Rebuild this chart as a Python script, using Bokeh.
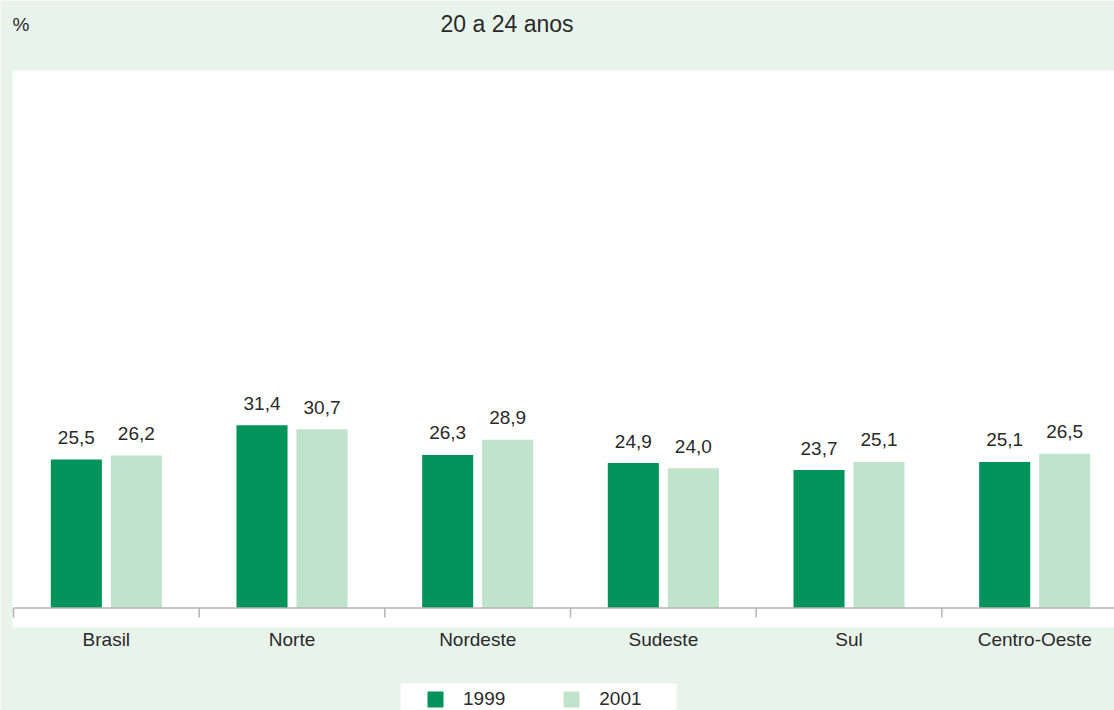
from bokeh.plotting import figure
from bokeh.models import ColumnDataSource, Range1d, Label, Legend, LegendItem, BoxAnnotation
from bokeh.core.properties import value
from bokeh.embed import file_html
from bokeh.resources import INLINE

# ---- data ----
regions = ["Brasil", "Norte", "Nordeste", "Sudeste", "Sul", "Centro-Oeste"]
v1999 = [25.5, 31.4, 26.3, 24.9, 23.7, 25.1]
v2001 = [26.2, 30.7, 28.9, 24.0, 25.1, 26.5]
series_names = ["1999", "2001"]
title_text = "20 a 24 anos"
unit_text = "%"

# ---- style ----
FONT = "Liberation Sans"
TXT = "#2a2a2a"
DARK = "#00945A"
LIGHT = "#BFE3CB"
BG = "#E8F3EB"
AXIS = "#B4B4B4"

W, H = 1114, 710
cat_px = 185.67      # pixels per category
x0_px = 13           # page x of first category boundary
y0_px = 607.5        # page y of value 0
val_px = 5.82        # pixels per percentage point

n = len(regions)
centers = [i + 0.5 for i in range(n)]
off = 0.1616
bw = 0.275

p = figure(width=W, height=H, output_backend="svg", toolbar_location=None,
           x_range=Range1d(-x0_px / cat_px, (W - x0_px) / cat_px),
           y_range=Range1d(-(H - y0_px) / val_px, y0_px / val_px),
           x_axis_location=None, y_axis_location=None,
           min_border_left=0, min_border_right=0, min_border_top=0, min_border_bottom=0)
p.background_fill_color = BG
p.border_fill_color = BG
p.outline_line_color = None
p.xgrid.visible = False
p.ygrid.visible = False

# white plotting panel and legend panel (screen units, from bottom-left)
p.add_layout(BoxAnnotation(left=12, right=W + 10, top=H - 70, bottom=H - 627,
                           left_units="screen", right_units="screen",
                           top_units="screen", bottom_units="screen",
                           fill_color="white", fill_alpha=1.0, line_color=None,
                           level="underlay"))
p.add_layout(BoxAnnotation(left=400, right=676, top=H - 683, bottom=-20,
                           left_units="screen", right_units="screen",
                           top_units="screen", bottom_units="screen",
                           fill_color="white", fill_alpha=1.0, line_color=None,
                           level="underlay"))

src = ColumnDataSource(dict(
    x1=[c - off for c in centers], x2=[c + off for c in centers],
    v1=v1999, v2=v2001,
    t1=[f"{v:.1f}".replace(".", ",") for v in v1999],
    t2=[f"{v:.1f}".replace(".", ",") for v in v2001],
))

r1 = p.vbar(x="x1", top="v1", bottom=0, width=bw, source=src, fill_color=DARK, line_color=None)
r2 = p.vbar(x="x2", top="v2", bottom=0, width=bw, source=src, fill_color=LIGHT, line_color=None)

for xcol, tcol, ycol in (("x1", "t1", "v1"), ("x2", "t2", "v2")):
    p.text(x=xcol, y=ycol, text=tcol, source=src, text_align="center",
           text_baseline="alphabetic", y_offset=-22, text_font=value(FONT),
           text_font_size="19px", text_color=TXT)

# baseline and category boundary ticks
bounds = list(range(n + 1))
p.line(x=[bounds[0], bounds[-1]], y=[0, 0], line_color=AXIS, line_width=1.5)
tick_len = 9.5 / val_px
p.segment(x0=bounds, y0=[0] * len(bounds), x1=bounds, y1=[-tick_len] * len(bounds),
          line_color=AXIS, line_width=1.5)

# category labels
p.text(x=centers, y=[0] * n, text=regions, text_align="center",
       text_baseline="alphabetic", y_offset=31.5, text_font=value(FONT),
       text_font_size="19px", text_color=TXT)

# title and unit
p.add_layout(Label(x=440, y=H - 23.3, x_units="screen", y_units="screen", text=title_text,
                   text_font=FONT, text_font_size="23px", text_color=TXT,
                   text_baseline="alphabetic"))
p.add_layout(Label(x=12, y=H - 23.7, x_units="screen", y_units="screen", text=unit_text,
                   text_font=FONT, text_font_size="19px", text_color=TXT,
                   text_baseline="alphabetic"))

legend = Legend(items=[LegendItem(label=series_names[0], renderers=[r1]),
                       LegendItem(label=series_names[1], renderers=[r2])],
                orientation="horizontal", location=(425, 0),
                glyph_width=20, glyph_height=20, label_standoff=18, spacing=56,
                padding=5, margin=0, label_text_font=FONT, label_text_font_size="19px",
                label_text_color=TXT, background_fill_alpha=0.0,
                border_line_color=None, label_width=42, label_height=20)
p.add_layout(legend, "center")

open("out.html", "w").write(file_html(p, INLINE))
